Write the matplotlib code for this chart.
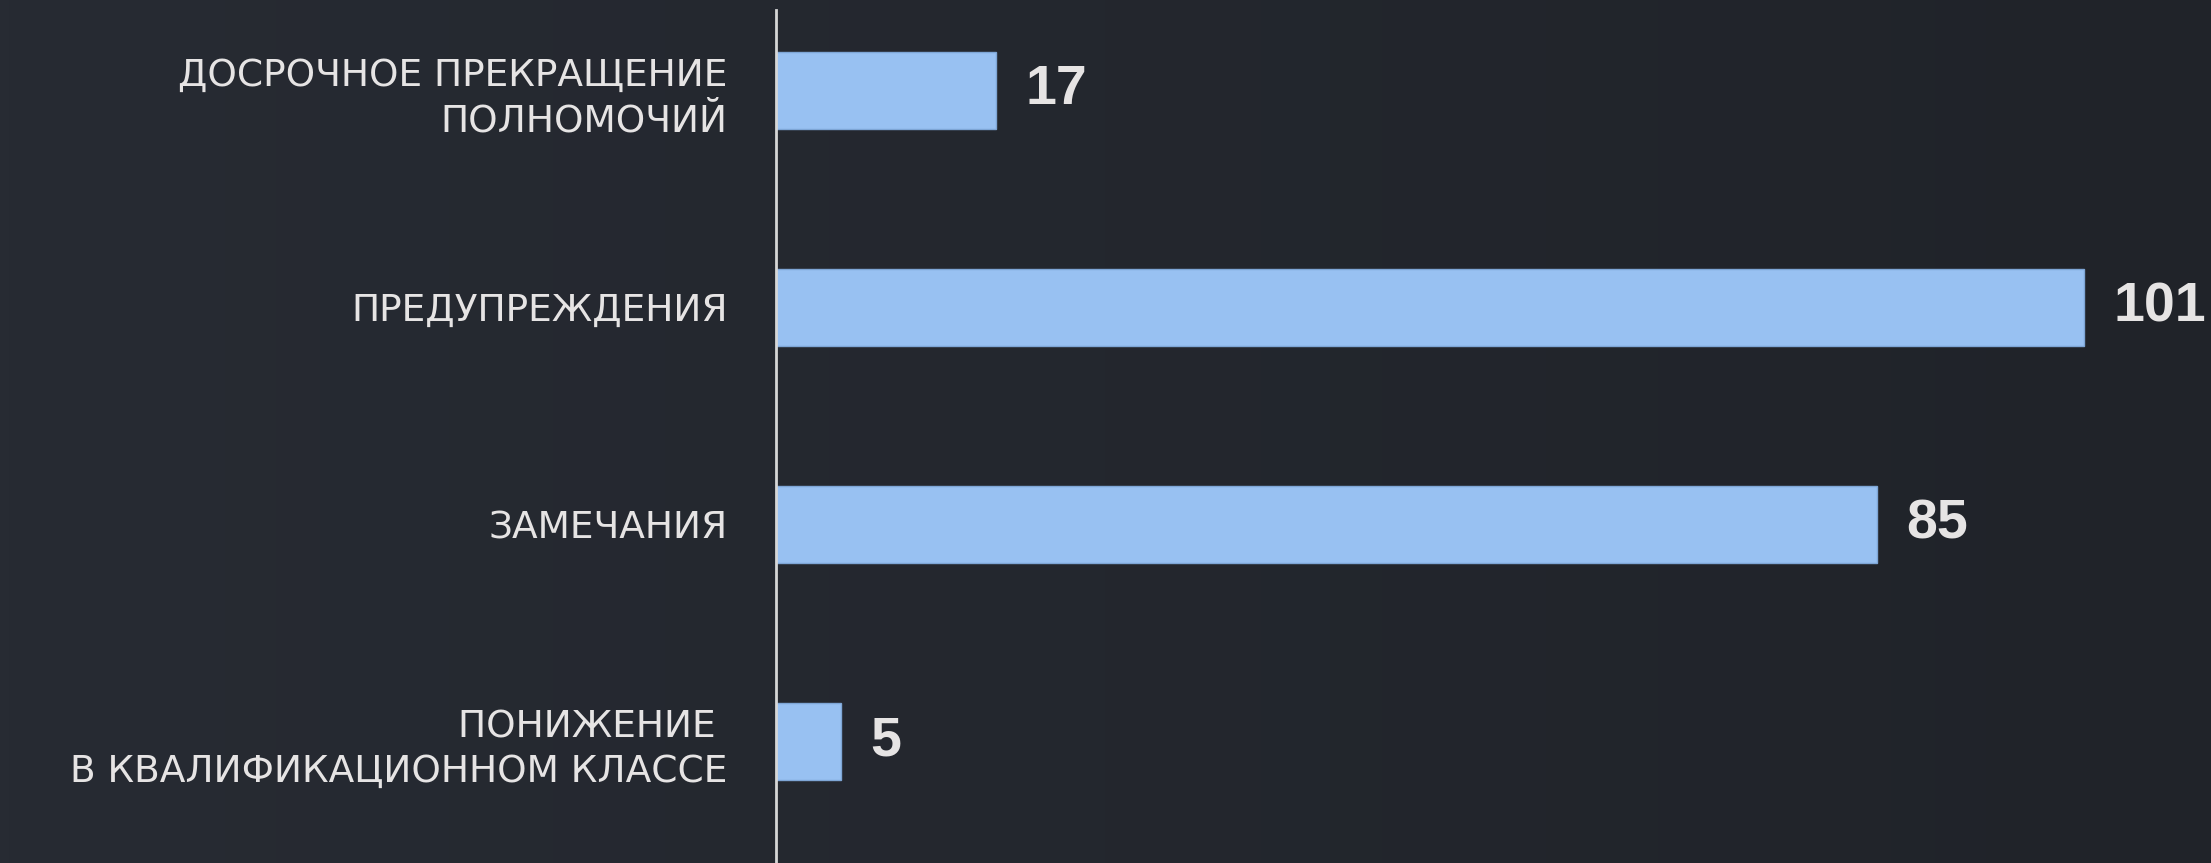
import numpy as np
import matplotlib
matplotlib.use("Agg")
import matplotlib.pyplot as plt

categories = ["ДОСРОЧНОЕ ПРЕКРАЩЕНИЕ\nПОЛНОМОЧИЙ",
              "ПРЕДУПРЕЖДЕНИЯ",
              "ЗАМЕЧАНИЯ",
              "ПОНИЖЕНИЕ \nВ КВАЛИФИКАЦИОННОМ КЛАССЕ"]
values = [17, 101, 85, 5]

BG_L = "#272b33"; BG_R = "#202329"
BAR = "#98c1f2"; BAR_EDGE = "#7ea6d6"
INK = "#e6e4e4"; AXIS = "#d6d6d6"

W, H = 2211, 863
fig = plt.figure(figsize=(W / 100, H / 100), dpi=100)

# subtle left-to-right background gradient
bg = fig.add_axes([0, 0, 1, 1], zorder=-1)
c0 = np.array(matplotlib.colors.to_rgb(BG_L)); c1 = np.array(matplotlib.colors.to_rgb(BG_R))
t = np.linspace(0, 1, 256)[None, :, None]
bg.imshow(c0 + (c1 - c0) * t, aspect="auto", extent=[0, 1, 0, 1])
bg.axis("off")

x0 = 776 / W
ax = fig.add_axes([x0, 0, 1 - x0, (H - 10) / H])
ax.patch.set_alpha(0)
y = np.arange(len(values))
ax.barh(y, values, height=0.355, color=BAR, edgecolor=BAR_EDGE, linewidth=1, zorder=2)
ax.set_xlim(0, 110.8)
ax.set_ylim(3.562, -0.369)

for yi, v in zip(y, values):
    ax.annotate(str(v), xy=(v, yi), xytext=(21, 0), textcoords="offset points",
                va="center", ha="left", fontsize=40, fontweight="bold",
                family="Liberation Sans", color=INK)

ax.set_yticks(y)
ax.set_yticklabels(categories, fontsize=27, color=INK, family="DejaVu Sans",
                   linespacing=1.32)
ax.tick_params(axis="y", length=0, pad=35)
ax.set_xticks([])
for s in ["top", "right", "bottom"]:
    ax.spines[s].set_visible(False)
ax.spines["left"].set_color(AXIS)
ax.spines["left"].set_linewidth(2)

fig.savefig("out.png", dpi=100)
